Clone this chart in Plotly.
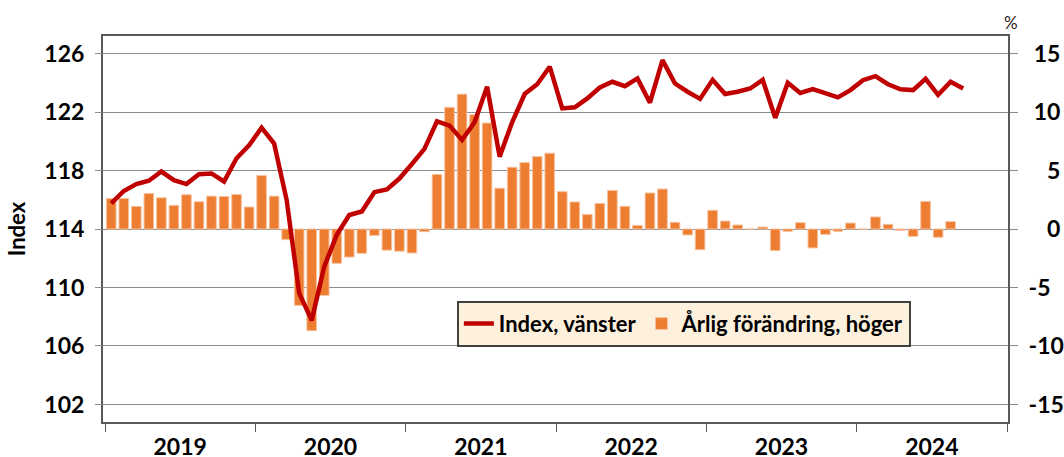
import plotly.graph_objects as go

# Monthly series, Jan 2019 - Sep 2024
years = ["2019", "2020", "2021", "2022", "2023", "2024"]
months = [f"{y}-{m:02d}" for y in range(2019, 2025) for m in range(1, 13)][:69]

index_values = [
    115.75, 116.6, 117.07, 117.3, 117.93, 117.34, 117.07, 117.75, 117.8, 117.25, 118.84, 119.73,
    120.93, 119.84, 115.98, 109.61, 107.75, 111.43, 113.6, 114.96, 115.2, 116.52, 116.7, 117.45,
    118.45, 119.48, 121.36, 121.07, 120.09, 121.3, 123.73, 118.95, 121.3, 123.23, 123.9, 125.1,
    122.25, 122.32, 122.93, 123.68, 124.07, 123.77, 124.3, 122.64, 125.55, 123.95, 123.39, 122.9,
    124.2, 123.23, 123.39, 123.61, 124.2, 121.6, 124.0, 123.3, 123.57, 123.32, 123.0, 123.5,
    124.18, 124.45, 123.9, 123.55, 123.5, 124.27, 123.17, 124.07, 123.61,
]

yearly_change = [
    2.61, 2.61, 1.93, 3.04, 2.67, 2.02, 2.93, 2.33, 2.81, 2.78, 2.95, 1.88,
    4.57, 2.81, -0.91, -6.53, -8.69, -5.68, -2.94, -2.4, -2.08, -0.55, -1.81, -1.9,
    -2.05, -0.23, 4.66, 10.4, 11.53, 9.77, 9.06, 3.49, 5.28, 5.68, 6.19, 6.48,
    3.19, 2.31, 1.25, 2.19, 3.3, 1.94, 0.31, 3.08, 3.42, 0.57, -0.51, -1.77,
    1.6, 0.68, 0.34, 0.0, 0.17, -1.85, -0.2, 0.54, -1.62, -0.46, -0.2, 0.51,
    0.0, 1.03, 0.4, -0.11, -0.63, 2.36, -0.71, 0.63, None,
]

left_ticks = [102, 106, 110, 114, 118, 122, 126]
right_ticks = [-15, -10, -5, 0, 5, 10, 15]
right_labels = ["-15", "-10", "-5", "\u2008\u20070", "\u2008\u20075", "\u200810", "\u200815"]

pos = list(range(len(months)))
FONT = "Lato, 'Open Sans', sans-serif"
AXIS_COL = "#595959"
GRID_COL = "#8c8c8c"

fig = go.Figure()

# line first in legend, drawn on the overlaying (left) axis so it sits above the bars
fig.add_trace(go.Scatter(
    x=pos, y=index_values, yaxis="y2", mode="lines",
    line=dict(color="#C00000", width=4.5),
    name="Index, vänster", text=months, hovertemplate="%{text}: %{y:.1f}<extra></extra>",
))
fig.add_trace(go.Bar(
    x=pos, y=yearly_change, yaxis="y",
    marker=dict(color="#ED7D31", line=dict(color="#F6C3A0", width=1)),
    name="Årlig förändring, höger", text=months, textposition="none",
    hovertemplate="%{text}: %{y:.1f} %<extra></extra>",
))

fig.update_layout(
    width=1064, height=457,
    margin=dict(l=103, r=56, t=36, b=35),
    paper_bgcolor="white", plot_bgcolor="white",
    font=dict(family=FONT, color="black"),
    bargap=0.23,
    showlegend=True,
    legend=dict(
        orientation="h", x=0.391, y=0.314, xanchor="left", yanchor="top",
        bgcolor="#FDF0DC", bordercolor="#404040", borderwidth=2,
        font=dict(size=22, family=FONT, weight="bold"),
        itemwidth=30, tracegroupgap=0,
    ),
    xaxis=dict(
        range=[-0.66, 71.58], automargin=False,
        tickmode="array",
        tickvals=[5.5 + 12 * k for k in range(len(years))],
        ticktext=years,
        ticks="", showgrid=False, zeroline=False,
        tickfont=dict(size=23, weight="bold"), ticklabelstandoff=3,
        showline=True, linecolor=AXIS_COL, linewidth=2, mirror=True,
        minor=dict(tickmode="array", tickvals=[-0.5 + 12 * k for k in range(7)],
                   ticks="outside", ticklen=8, tickwidth=1.2, tickcolor=AXIS_COL, showgrid=False),
    ),
    yaxis=dict(
        side="right", range=[-16.5, 16.5], automargin=False,
        tickmode="array", tickvals=right_ticks, ticktext=right_labels,
        ticks="outside", ticklen=8, tickwidth=1, tickcolor=GRID_COL,
        tickfont=dict(size=23, weight="bold"), ticklabelstandoff=6,
        showgrid=True, gridcolor=GRID_COL, gridwidth=1, zeroline=False,
        showline=True, linecolor=AXIS_COL, linewidth=2, mirror=True,
    ),
    yaxis2=dict(
        overlaying="y", side="left", range=[100.8, 127.2], automargin=False,
        tickmode="array", tickvals=left_ticks,
        ticks="outside", ticklen=7, tickwidth=1, tickcolor=GRID_COL,
        tickfont=dict(size=23, weight="bold"), ticklabelstandoff=6,
        showgrid=False, zeroline=False,
        title=dict(text="Index", font=dict(size=22, weight="bold"), standoff=12),
    ),
    annotations=[dict(
        text="%", xref="paper", yref="paper", x=1.003, y=1.035,
        xanchor="center", yanchor="middle", showarrow=False,
        font=dict(size=17, color="#262626"),
    )],
)

# drop the browser's default body margin so the figure sits at the window's corner
fig.write_html("out.html", config={"displayModeBar": False},
               post_script="document.body.style.margin='0';")
